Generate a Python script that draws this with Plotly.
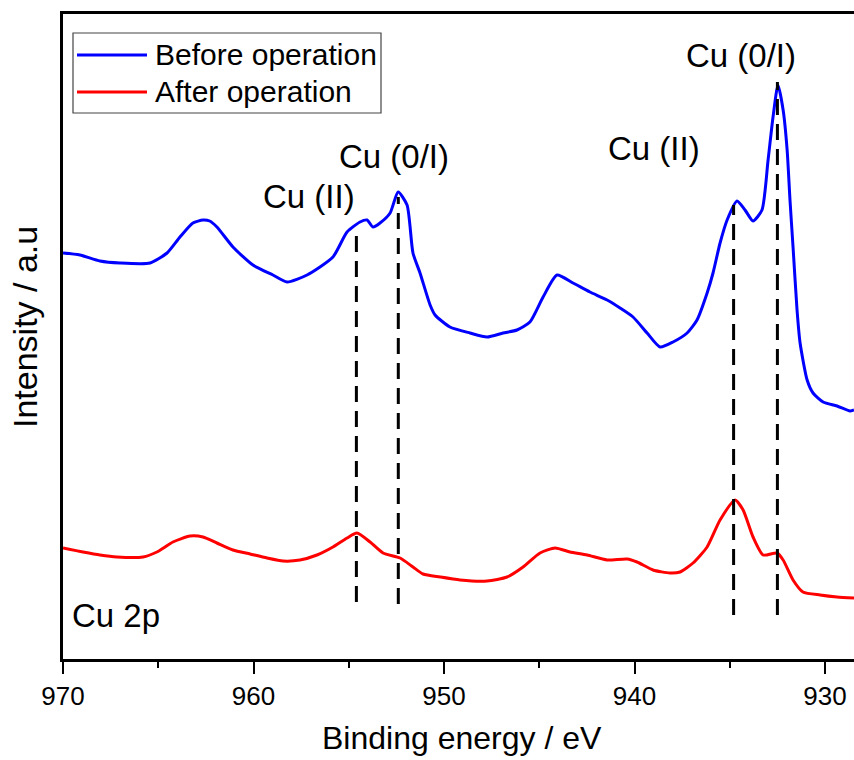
import plotly.graph_objects as go

# Binding energy (eV) and intensity (a.u.)
energy_before = [970.0, 969.11, 968.06, 967.01, 965.43, 964.54, 963.86, 963.18, 962.65, 962.30,
                 961.92, 961.08, 960.03, 958.98, 958.24, 957.19, 955.83, 955.09, 954.41, 954.04,
                 953.73, 953.36, 952.83, 952.41, 951.94, 951.63, 951.26, 950.73, 950.47, 949.69,
                 948.64, 947.74, 946.90, 946.17, 945.49, 944.80, 944.07, 943.23, 942.34, 941.44,
                 940.76, 940.08, 939.34, 938.66, 937.98, 937.24, 936.72, 936.19, 935.88, 935.51,
                 935.14, 934.62, 934.20, 933.78, 933.31, 932.99, 932.73, 932.47, 932.20, 931.99,
                 931.84, 931.68, 931.47, 931.31, 930.94, 930.63, 930.10, 929.37, 928.69, 928.48]
intensity_before = [406, 404, 398, 396, 396, 406, 422, 436, 439, 438,
                    432, 412, 394, 384, 377, 384, 402, 427, 437, 439,
                    432, 436, 446, 467, 454, 406, 386, 354, 344, 332,
                    326, 322, 326, 329, 337, 362, 384, 376, 367, 359,
                    351, 342, 326, 312, 317, 326, 339, 366, 386, 416,
                    439, 458, 449, 438, 449, 499, 542, 574, 549, 509,
                    459, 412, 349, 316, 279, 266, 257, 253, 248, 249]

energy_after = [970.0, 968.95, 968.06, 967.17, 965.80, 965.07, 964.23, 963.33, 962.65, 961.92,
                961.08, 960.18, 959.29, 958.45, 957.56, 956.67, 955.83, 955.09, 954.57, 953.88,
                953.20, 952.31, 951.63, 951.10, 950.21, 949.16, 947.74, 946.69, 945.85, 944.96,
                944.17, 943.39, 942.49, 941.44, 940.39, 939.87, 939.03, 938.14, 937.61, 936.93,
                936.19, 935.51, 934.72, 934.30, 933.78, 933.25, 932.52, 932.20, 931.68, 931.16,
                930.26, 929.37, 928.48]
intensity_after = [111, 107, 104, 102, 102, 107, 117, 123, 122, 116,
                   109, 105, 101, 98, 99, 104, 112, 121, 126, 117,
                   106, 101, 92, 85, 82, 79, 78, 82, 92, 106,
                   111, 107, 104, 99, 100, 97, 89, 86, 87, 96,
                   112, 139, 159, 149, 122, 104, 106, 99, 79, 67,
                   64, 62, 61]

# Reference peak positions (dashed markers) and their vertical extents
peak_energy = [954.6, 952.4, 934.8, 932.5]
peak_top = [432, 462, 454, 577]
peak_bottom = [57, 55, 44, 44]

# Peak labels
label_text = ["Cu (II)", "Cu (0/I)", "Cu (II)", "Cu (0/I)"]
label_energy = [957.1, 952.6, 939.0, 934.4]
label_level = [463, 503, 511, 604]

x_ticks = [970, 960, 950, 940, 930]
series_names = ["Before operation", "After operation"]
series_colors = ["#0000FF", "#FF0000"]

FONT = "Liberation Sans, Arial, sans-serif"

fig = go.Figure()
fig.add_trace(go.Scatter(x=energy_before, y=intensity_before, mode="lines",
                         line=dict(color=series_colors[0], width=3, shape="spline",
                                   smoothing=0.6),
                         name=series_names[0], showlegend=False))
fig.add_trace(go.Scatter(x=energy_after, y=intensity_after, mode="lines",
                         line=dict(color=series_colors[1], width=3, shape="spline",
                                   smoothing=0.6),
                         name=series_names[1], showlegend=False))

shapes = []
for e, t, b in zip(peak_energy, peak_top, peak_bottom):
    shapes.append(dict(type="line", xref="x", yref="y", x0=e, x1=e, y0=b, y1=t,
                       line=dict(color="black", width=3, dash="16px,9px")))

# custom legend (paper coordinates derived from plot area)
L, R, T, B = 63, 854, 14, 659
def px(xp):
    return (xp - L) / (R - L)
def py(yp):
    return (B - yp) / (B - T)

shapes.append(dict(type="rect", xref="paper", yref="paper", x0=px(73), x1=px(381),
                   y0=py(113), y1=py(33), line=dict(color="#444444", width=1.2)))
annotations = []
for i, (name, col) in enumerate(zip(series_names, series_colors)):
    yy = [55, 92][i]
    shapes.append(dict(type="line", xref="paper", yref="paper", x0=px(77), x1=px(147),
                       y0=py(yy), y1=py(yy), line=dict(color=col, width=3)))
    annotations.append(dict(xref="paper", yref="paper", x=px(153), y=py(yy), text=name,
                            showarrow=False, xanchor="left", yanchor="middle",
                            font=dict(family=FONT, size=30, color="black")))

for txt, e, lv in zip(label_text, label_energy, label_level):
    annotations.append(dict(xref="x", yref="y", x=e, y=lv, text=txt, showarrow=False,
                            xanchor="center", yanchor="middle",
                            font=dict(family=FONT, size=33, color="black")))

annotations.append(dict(xref="paper", yref="paper", x=px(70), y=py(615), text="Cu 2p",
                        showarrow=False, xanchor="left", yanchor="middle",
                        font=dict(family=FONT, size=33, color="black")))
annotations.append(dict(xref="paper", yref="paper", x=px(462), y=py(738),
                        text="Binding energy / eV", showarrow=False,
                        xanchor="center", yanchor="middle",
                        font=dict(family=FONT, size=32, color="black")))
annotations.append(dict(xref="paper", yref="paper", x=px(25), y=py(327),
                        text="Intensity / a.u", showarrow=False, textangle=-90,
                        xanchor="center", yanchor="middle",
                        font=dict(family=FONT, size=34, color="black")))

fig.update_layout(
    width=854, height=760,
    margin=dict(l=L, r=854 - R, t=T, b=760 - B),
    paper_bgcolor="white", plot_bgcolor="white",
    shapes=shapes, annotations=annotations,
    showlegend=False,
    xaxis=dict(range=[970, 928.48], tickvals=x_ticks, ticks="outside", ticklen=12,
               tickwidth=2, tickcolor="black", showline=True, linecolor="black",
               linewidth=2.5, mirror=True, showgrid=False, zeroline=False,
               tickfont=dict(family=FONT, size=26, color="black"),
               minor=dict(tickvals=[965, 955, 945, 935], ticks="outside", ticklen=6,
                          tickwidth=2, tickcolor="black")),
    yaxis=dict(range=[0, 645], showticklabels=False, ticks="", showline=True,
               linecolor="black", linewidth=2.5, mirror=False, showgrid=False,
               zeroline=False),
)

fig.write_html("out.html")
